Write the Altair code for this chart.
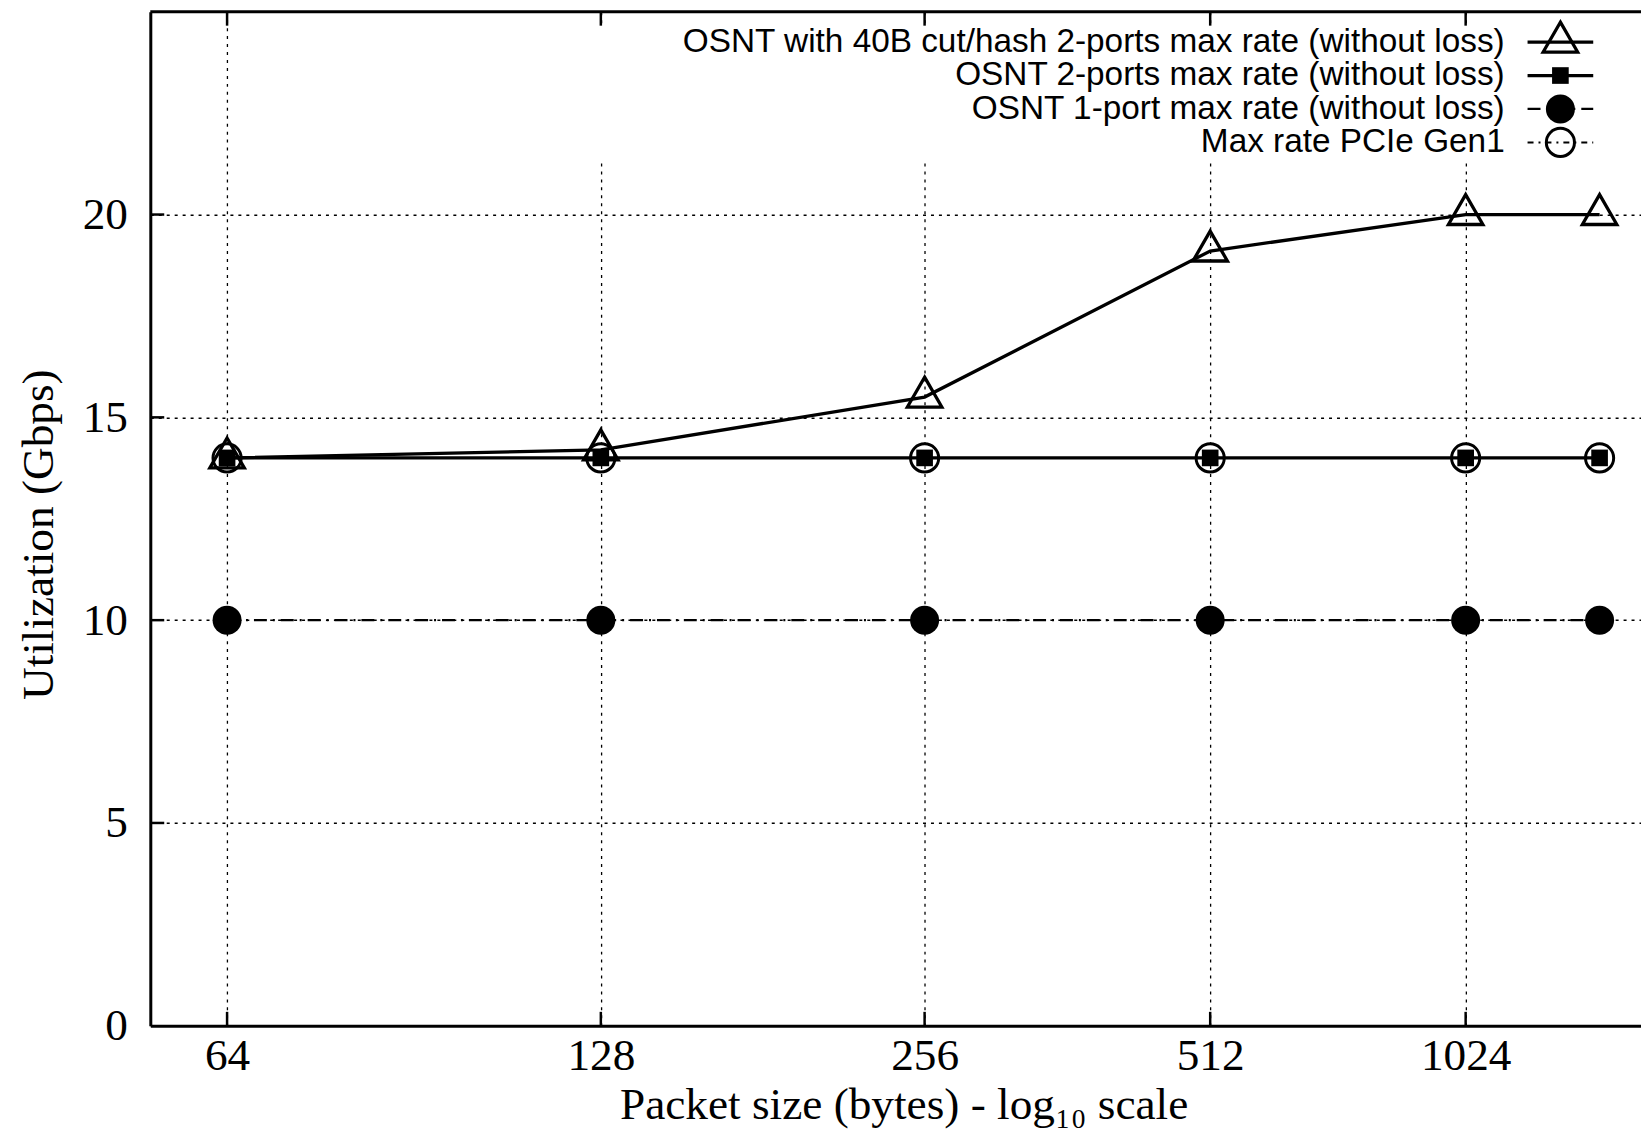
import altair as alt
import pandas as pd

# ---------------- data ----------------
sizes = [64, 128, 256, 512, 1024, 1518]
series_names = [
    "OSNT with 40B cut/hash 2-ports max rate (without loss)",
    "OSNT 2-ports max rate (without loss)",
    "OSNT 1-port max rate (without loss)",
    "Max rate PCIe Gen1",
]
cut_hash_2ports = [14.0, 14.2, 15.5, 19.1, 20.0, 20.0]
two_ports = [14.0, 14.0, 14.0, 14.0, 14.0, 14.0]
one_port = [10.0, 10.0, 10.0, 10.0, 10.0, 10.0]
pcie_gen1 = [14.0, 14.0, 14.0, 14.0, 14.0, 14.0]
series_values = [cut_hash_2ports, two_ports, one_port, pcie_gen1]

x_tick_sizes = [64, 128, 256, 512, 1024]
y_tick_values = [0, 5, 10, 15, 20]

rows = []
for name, vals in zip(series_names, series_values):
    for s, v in zip(sizes, vals):
        rows.append({"series": name, "size": s, "value": v})
df = pd.DataFrame(rows)

# ---------------- layout / style ----------------
W, H = 1498, 1019
SERIF = "Liberation Serif"
SANS = "Liberation Sans"
TRI = "M0,-1.1547L1,0.5774L-1,0.5774Z"

styles = [
    dict(dash=None, lw=3.3, shape=TRI, filled=False, size=1200, sw=3.3),
    dict(dash=None, lw=3.3, shape="square", filled=True, size=280, sw=1),
    dict(dash=[13, 6, 2, 6], lw=2.3, shape="circle", filled=True, size=850, sw=1),
    dict(dash=[6, 5, 2, 5], lw=2, shape="circle", filled=False, size=800, sw=3),
]

xscale = alt.Scale(type="log", domain=[5.813, 10.75], nice=False)
yscale = alt.Scale(domain=[0, 25], nice=False, zero=True)

GRID = dict(grid=True, gridDash=[3, 5], gridColor="black", gridWidth=1.3, gridOpacity=1)
FS = 45.5

x_axis = alt.Axis(
    values=[6, 7, 8, 9, 10],
    labelExpr="format(pow(2, datum.value), 'd')",
    ticks=False, tickSize=0,
    domain=True, domainColor="black", domainWidth=3,
    labelFont=SERIF, labelFontSize=FS, labelColor="black", labelPadding=8,
    labelOverlap=False, labelFlush=False,
    title="Packet size (bytes) - log\u2081\u2080 scale",
    titleFont=SERIF, titleFontSize=FS, titleFontWeight="normal", titleColor="black",
    titleX=757, titleY=93, titleBaseline="alphabetic", titleAlign="center",
    **GRID,
)
y_axis = alt.Axis(
    values=y_tick_values, format="d",
    ticks=False, tickSize=0,
    domain=True, domainColor="black", domainWidth=3,
    labelFont=SERIF, labelFontSize=FS, labelColor="black", labelPadding=23,
    labelOverlap=False, labelFlush=False,
    title="Utilization (Gbps)",
    titleFont=SERIF, titleFontSize=FS, titleFontWeight="normal", titleColor="black",
    titleX=-112, titleY=525, titleAlign="center", titleBaseline="middle", titleAngle=-90,
    **GRID,
)

X = alt.X("lg:Q", scale=xscale, axis=x_axis)
Y = alt.Y("value:Q", scale=yscale, axis=y_axis)

base = alt.Chart(df).transform_calculate(lg="log(datum.size)/log(2)")

layers = []

# axes + grid carrier (invisible points)
layers.append(base.mark_point(opacity=0).encode(x=X, y=Y))

# legend background (opaque key box)
one = alt.Data(values=[{"a": 1}])
layers.append(
    alt.Chart(one).mark_rect(fill="white").encode(
        x=alt.value(409), x2=alt.value(W), y=alt.value(15), y2=alt.value(151)
    )
)

# series
for name, st in zip(series_names, styles):
    sub = base.transform_filter(alt.datum.series == name)
    line_kw = dict(color="black", strokeWidth=st["lw"])
    if st["dash"] is not None:
        line_kw["strokeDash"] = st["dash"]
    layers.append(sub.mark_line(**line_kw).encode(x=X, y=Y))
    layers.append(
        sub.mark_point(
            shape=st["shape"], filled=st["filled"], size=st["size"],
            color="black", strokeWidth=st["sw"], opacity=1,
        ).encode(x=X, y=Y)
    )

# inward ticks (bottom, top, left) and top border
xt = alt.Chart(pd.DataFrame({"size": x_tick_sizes})).transform_calculate(
    lg="log(datum.size)/log(2)"
)
layers.append(
    xt.mark_rule(color="black", strokeWidth=2.5).encode(
        x=X, y=alt.value(H), y2=alt.value(H - 14)
    )
)
layers.append(
    xt.mark_rule(color="black", strokeWidth=2.5).encode(
        x=X, y=alt.value(0), y2=alt.value(14)
    )
)
yt = alt.Chart(pd.DataFrame({"value": [5, 10, 15, 20]}))
layers.append(
    yt.mark_rule(color="black", strokeWidth=2.5).encode(
        y=Y, x=alt.value(0), x2=alt.value(14)
    )
)
layers.append(
    alt.Chart(one).mark_rule(color="black", strokeWidth=3).encode(
        x=alt.value(0), x2=alt.value(W), y=alt.value(0)
    )
)

# legend (text left of sample, like gnuplot key)
for i, (name, st) in enumerate(zip(series_names, styles)):
    ry = 30.5 + 33.6 * i
    d = alt.Data(values=[{"label": name}])
    layers.append(
        alt.Chart(d).mark_text(
            align="right", baseline="middle", font=SANS, fontSize=33.5, color="black"
        ).encode(x=alt.value(1361), y=alt.value(ry), text="label:N")
    )
    rk = dict(color="black", strokeWidth=st["lw"])
    if st["dash"] is not None:
        rk["strokeDash"] = st["dash"]
    layers.append(
        alt.Chart(d).mark_rule(**rk).encode(
            x=alt.value(1384), x2=alt.value(1450), y=alt.value(ry)
        )
    )
    layers.append(
        alt.Chart(d).mark_point(
            shape=st["shape"], filled=st["filled"], size=st["size"],
            color="black", strokeWidth=st["sw"], opacity=1,
        ).encode(x=alt.value(1417), y=alt.value(ry))
    )

chart = (
    alt.layer(*layers)
    .properties(
        width=W,
        height=H,
        autosize=alt.AutoSizeParams(type="none"),
        padding={"left": 143, "top": 1, "right": 0, "bottom": 104},
        background="white",
    )
    .configure_view(strokeWidth=0)
)

chart.save("out.html", embed_options={"renderer": "svg", "actions": False})
